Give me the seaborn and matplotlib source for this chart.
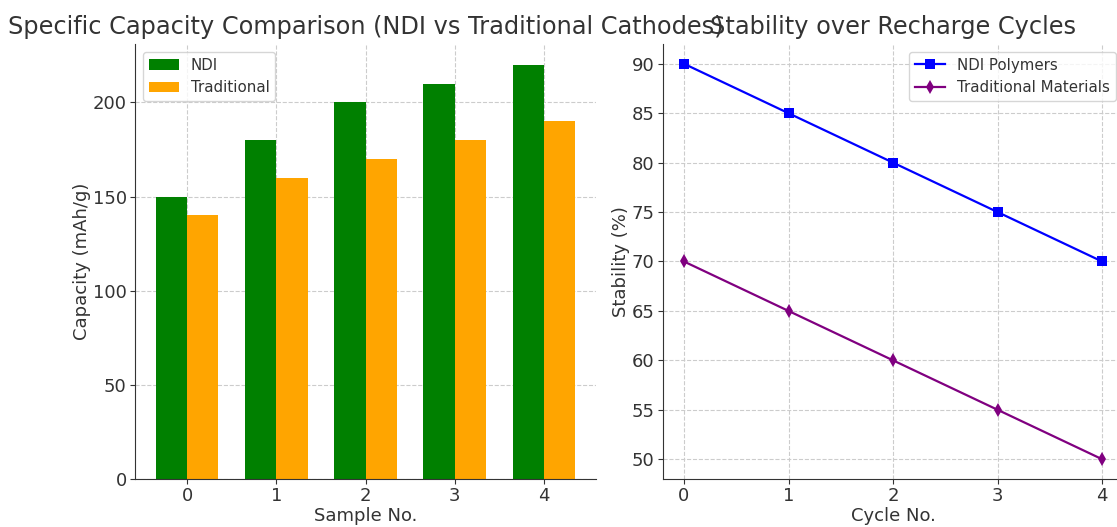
import pandas as pd
import seaborn as sns
import matplotlib.pyplot as plt

samples = [0, 1, 2, 3, 4]
ndi_capacity = [150, 180, 200, 210, 220]
traditional_capacity = [140, 160, 170, 180, 190]

cycles = [0, 1, 2, 3, 4]
ndi_stability = [90, 85, 80, 75, 70]
traditional_stability = [70, 65, 60, 55, 50]

TEXT = '#333333'


def style_axes(ax):
    ax.spines['top'].set_visible(False)
    ax.spines['right'].set_visible(False)
    ax.grid(True, linestyle='--', color='#cccccc', linewidth=0.8)
    ax.set_axisbelow(True)
    ax.tick_params(labelsize=13, colors=TEXT, labelcolor=TEXT, pad=2.5)
    for s in ax.spines.values():
        s.set_color(TEXT)


def plot_capacity(ax):
    df = pd.DataFrame({
        'Sample': samples * 2,
        'Capacity': ndi_capacity + traditional_capacity,
        'Type': ['NDI'] * len(samples) + ['Traditional'] * len(samples),
    })
    sns.barplot(data=df, x='Sample', y='Capacity', hue='Type',
                palette=['green', 'orange'], width=0.7, ax=ax,
                saturation=1, errorbar=None)
    ax.set_xlim(-0.585, 4.585)
    ax.set_ylim(0, 231)
    style_axes(ax)
    ax.set_xlabel('Sample No.', fontsize=13, color=TEXT, labelpad=1)
    ax.set_ylabel('Capacity (mAh/g)', fontsize=13, color=TEXT, labelpad=1)
    ax.set_title('Specific Capacity Comparison (NDI vs Traditional Cathodes)',
                 fontsize=17.3, color=TEXT, pad=7)
    leg = ax.legend(loc='upper left', fontsize=10.8, title=None)
    leg.get_frame().set_edgecolor('#cccccc')
    for t in leg.get_texts():
        t.set_color(TEXT)


def plot_stability(ax):
    df = pd.DataFrame({
        'Cycle': cycles * 2,
        'Stability': ndi_stability + traditional_stability,
        'Material': ['NDI Polymers'] * len(cycles) + ['Traditional Materials'] * len(cycles),
    })
    sns.lineplot(data=df, x='Cycle', y='Stability', hue='Material', style='Material',
                 markers=['s', 'd'], dashes=False, palette=['blue', 'purple'],
                 linewidth=1.6, markersize=7, markeredgewidth=0, ax=ax)
    ax.set_xlim(-0.2, 4.2)
    ax.set_ylim(48, 92)
    ax.set_xticks(cycles)
    style_axes(ax)
    ax.set_xlabel('Cycle No.', fontsize=13, color=TEXT, labelpad=1)
    ax.set_ylabel('Stability (%)', fontsize=13, color=TEXT, labelpad=1)
    ax.set_title('Stability over Recharge Cycles', fontsize=17.3, color=TEXT, pad=7)
    leg = ax.legend(loc='upper right', fontsize=10.8, title=None)
    leg.get_frame().set_edgecolor('#cccccc')
    for t in leg.get_texts():
        t.set_color(TEXT)


if __name__ == '__main__':
    fig = plt.figure(figsize=(11.17, 5.27), dpi=100)
    ax1 = fig.add_axes([0.1209, 0.0911, 0.4127, 0.8254])
    ax2 = fig.add_axes([0.5936, 0.0911, 0.4118, 0.8254])
    plot_capacity(ax1)
    plot_stability(ax2)
    fig.savefig('out.png', dpi=100)
